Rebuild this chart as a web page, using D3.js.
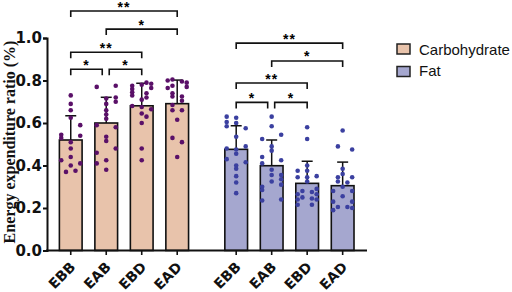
<!DOCTYPE html>
<html><head><meta charset="utf-8">
<script src="https://cdn.jsdelivr.net/npm/d3@7"></script>
<style>html,body{margin:0;padding:0;background:#fff;}svg{display:block;}</style>
</head><body>
<svg id="chart" width="512" height="292"></svg>
<script>
// ---- data ----
const groups = ["Carbohydrate", "Fat"];
const categories = ["EBB", "EAB", "EBD", "EAD"];
const carbMean = [0.52, 0.60, 0.681, 0.691];
const carbSD = [0.114, 0.121, 0.106, 0.111];
const fatMean = [0.476, 0.399, 0.316, 0.305];
const fatSD = [0.111, 0.121, 0.104, 0.111];
const yTicks = [0, 0.2, 0.4, 0.6, 0.8, 1.0];

const carbPoints = [
  [0.73,0.69,0.66,0.625,0.59,0.545,0.53,0.54,0.51,0.48,0.44,0.425,0.41,0.40,0.37,0.375],
  [0.77,0.775,0.72,0.715,0.70,0.69,0.66,0.64,0.62,0.59,0.58,0.535,0.515,0.48,0.46,0.425,0.38,0.41],
  [0.79,0.785,0.775,0.78,0.765,0.76,0.745,0.73,0.74,0.72,0.71,0.68,0.675,0.665,0.645,0.63,0.60,0.48,0.425],
  [0.80,0.805,0.795,0.79,0.77,0.775,0.765,0.74,0.725,0.725,0.705,0.685,0.66,0.66,0.615,0.53,0.51,0.44]
];
const carbCols = [
  [0,0,0,0,1,-1,-1,1,0,0,0,-1,1,0,-0.5,0.5],
  [-1,1,1,0,1,0,0,0,0,-1,1,0,0,1,-1,0,0,-1],
  [0.5,1,-1,0,1,-1,-1,-1,0.5,0.5,0,-1,0,1,0,0.5,0,0,0],
  [-1,-0.5,0.5,1,1,-0.5,-1,-0.5,-0.5,0.5,0.5,-0.5,-0.5,0.5,0,-0.5,0.5,0]
];
const fatPoints = [
  [0.63,0.625,0.605,0.60,0.585,0.575,0.535,0.49,0.48,0.475,0.455,0.43,0.415,0.40,0.385,0.35,0.32,0.27],
  [0.63,0.585,0.545,0.525,0.49,0.47,0.44,0.425,0.41,0.38,0.355,0.355,0.335,0.325,0.31,0.30,0.285,0.235,0.24],
  [0.58,0.525,0.40,0.375,0.375,0.35,0.345,0.345,0.325,0.29,0.28,0.275,0.265,0.265,0.25,0.245,0.24,0.24,0.215,0.215],
  [0.565,0.49,0.475,0.385,0.36,0.345,0.345,0.325,0.32,0.30,0.28,0.28,0.255,0.23,0.23,0.205,0.205,0.20,0.19]
];
const fatCols = [
  [-1,0,-1,0,-1,1,0,1,-1,0,0,-1,1,0,0,0,0,0],
  [0,0,1,-1,0,0,-1,1,-1,0,0,1,1,0,1,-1,-1,-1,1],
  [0,0,0,-1,0,1,0,-1,0,1,-0.5,0.5,-1,1,-0.5,0.5,-1,1,-1,0.5],
  [0,-0.5,1,0,0,-0.5,1,-0.5,0.5,0,-1,1,0,-1,1,-0.5,0.5,1,-1]
];
// significance brackets: [from, to, label, level (y units)]
const carbSig = [["EBB","EAB","*",0.853],["EAB","EBD","*",0.853],["EBB","EBD","**",0.933],["EAB","EAD","*",1.042],["EBB","EAD","**",1.127]];
const fatSig = [["EBB","EAB","*",0.697],["EAB","EBD","*",0.697],["EBB","EBD","**",0.788],["EAB","EAD","*",0.892],["EBB","EAD","**",0.976]];

const fills = {Carbohydrate: "#e8c3ab", Fat: "#a5a7cf"};
const dotColors = {Carbohydrate: "#5a1068", Fat: "#3b40a0"};

// ---- scales ----
const svg = d3.select("#chart");
const y = d3.scaleLinear().domain([0, 1]).range([250.5, 38]);
const x0 = d3.scaleBand().domain(groups).range([53, 360.4]).paddingInner(0.142).paddingOuter(0);
const x1 = d3.scaleBand().domain(categories).range([0, x0.bandwidth()]).paddingInner(0.36).paddingOuter(0.18);
const cx = (g, c) => x0(g) + x1(c) + x1.bandwidth() / 2;

const series = [
  {g: "Carbohydrate", mean: carbMean, sd: carbSD, pts: carbPoints, cols: carbCols, sig: carbSig},
  {g: "Fat", mean: fatMean, sd: fatSD, pts: fatPoints, cols: fatCols, sig: fatSig}
];

// bars
series.forEach(s => {
  const gg = svg.append("g");
  gg.selectAll("rect").data(categories).join("rect")
    .attr("x", (c) => x0(s.g) + x1(c))
    .attr("y", (c, i) => y(s.mean[i]))
    .attr("width", x1.bandwidth())
    .attr("height", (c, i) => y(0) - y(s.mean[i]))
    .attr("fill", fills[s.g]).attr("stroke", "#111").attr("stroke-width", 1.6);
  // error bars (upper)
  categories.forEach((c, i) => {
    const xc = cx(s.g, c);
    gg.append("line").attr("x1", xc).attr("x2", xc)
      .attr("y1", y(s.mean[i])).attr("y2", y(s.mean[i] + s.sd[i]))
      .attr("stroke", "#111").attr("stroke-width", 1.5);
    gg.append("line").attr("x1", xc - 5.5).attr("x2", xc + 5.5)
      .attr("y1", y(s.mean[i] + s.sd[i])).attr("y2", y(s.mean[i] + s.sd[i]))
      .attr("stroke", "#111").attr("stroke-width", 1.5);
  });
  // dots
  categories.forEach((c, i) => {
    const pts = s.pts[i].map((v, k) => ({v, col: s.cols[i][k]}));
    gg.selectAll(null).data(pts).join("circle")
      .attr("cx", d => cx(s.g, c) + d.col * 9.5)
      .attr("cy", d => y(d.v))
      .attr("r", 2.3)
      .attr("fill", dotColors[s.g]);
  });
  // brackets
  s.sig.forEach(([a, b, lab, lev]) => {
    const ia = categories.indexOf(a), ib = categories.indexOf(b);
    let xa = cx(s.g, a), xb = cx(s.g, b);
    if (ib - ia === 1) { if (ia === 0) xb -= 4; else xa += 3; }
    const yl = y(lev);
    gg.append("path")
      .attr("d", `M${xa},${yl + 6}V${yl}H${xb}V${yl + 6}`)
      .attr("fill", "none").attr("stroke", "#111").attr("stroke-width", 1.6);
    gg.append("text").attr("x", (xa + xb) / 2).attr("y", yl + 0.5)
      .attr("text-anchor", "middle")
      .attr("font-family", "Liberation Sans, Arial, sans-serif")
      .attr("font-weight", "bold").attr("font-size", 14)
      .attr("letter-spacing", 1)
      .text(lab);
  });
});

// y axis
const yAxis = svg.append("g").attr("transform", "translate(47,0)")
  .call(d3.axisLeft(y).tickValues(yTicks).tickFormat(d3.format(".1f")).tickSize(4).tickPadding(1));
yAxis.select(".domain").attr("stroke", "#111").attr("stroke-width", 2);
yAxis.selectAll(".tick line").attr("stroke", "#111").attr("stroke-width", 2);
yAxis.selectAll("text").attr("font-family", "DejaVu Sans, sans-serif")
  .attr("font-weight", "bold").attr("font-size", 15).attr("fill", "#111");

// x axis
svg.append("line").attr("x1", 46).attr("x2", 367).attr("y1", y(0)).attr("y2", y(0))
  .attr("stroke", "#111").attr("stroke-width", 2);
groups.forEach(g => {
  categories.forEach(c => {
    const xc = cx(g, c);
    svg.append("line").attr("x1", xc).attr("x2", xc).attr("y1", y(0)).attr("y2", y(0) + 4.5)
      .attr("stroke", "#111").attr("stroke-width", 1.6);
    svg.append("text")
      .attr("transform", `translate(${xc + 5.5},${y(0) + 17.5}) rotate(-45)`)
      .attr("text-anchor", "end")
      .attr("font-family", "DejaVu Sans, sans-serif")
      .attr("font-weight", "bold").attr("font-size", 14).attr("fill", "#111")
      .text(c);
  });
});

// y title
svg.append("text")
  .attr("transform", "translate(14.5,142) rotate(-90)")
  .attr("text-anchor", "middle")
  .attr("font-family", "Liberation Serif, Times New Roman, serif")
  .attr("font-weight", "bold").attr("font-size", 16).attr("fill", "#111")
  .text("Energy expenditure ratio (%)");

// legend
const leg = svg.append("g");
groups.forEach((g, i) => {
  leg.append("rect").attr("x", 397).attr("y", 44 + i * 22.5).attr("width", 13).attr("height", 10)
    .attr("fill", fills[g]).attr("stroke", "#222").attr("stroke-width", 1.5);
  leg.append("text").attr("x", 419).attr("y", 55 + i * 21)
    .attr("font-family", "Liberation Sans, Arial, sans-serif").attr("font-size", 15).attr("fill", "#111")
    .text(g);
});
</script>
</body></html>
